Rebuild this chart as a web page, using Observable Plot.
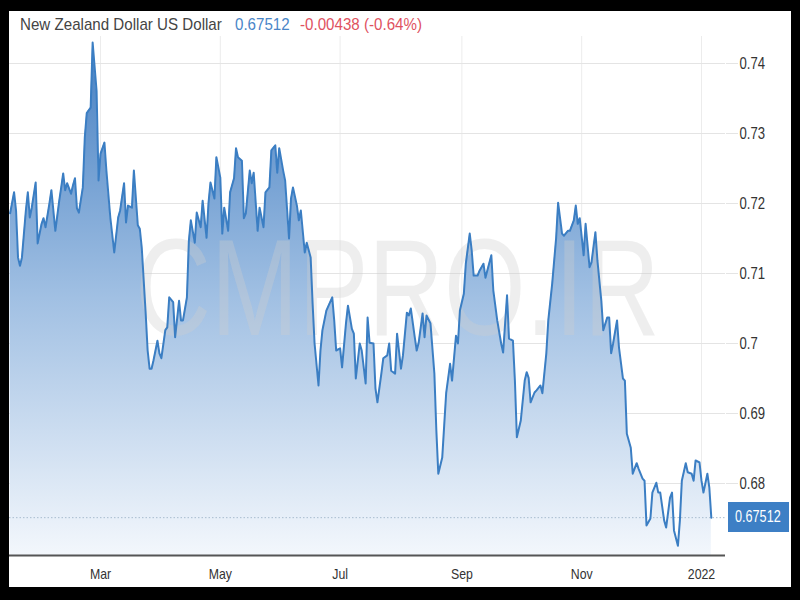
<!DOCTYPE html>
<html><head><meta charset="utf-8">
<script src="https://cdn.jsdelivr.net/npm/d3@7"></script>
<script src="https://cdn.jsdelivr.net/npm/@observablehq/plot@0.6"></script>
<style>
html,body{margin:0;padding:0;background:#000;width:800px;height:600px;overflow:hidden;}
#panel{position:absolute;left:9px;top:11px;width:782px;height:576px;background:#fff;}
.t{position:absolute;top:15px;font-family:"Liberation Sans",Arial,sans-serif;font-size:17px;white-space:nowrap;line-height:20px;transform:scaleX(0.89);transform-origin:0 50%;}
#chart{position:absolute;left:9px;top:36px;}
#last{position:absolute;left:728px;width:61px;height:30px;background:#3d7fc5;}
#lastText{position:absolute;left:7px;top:0;line-height:30px;color:#fff;font-family:"Liberation Sans",Arial,sans-serif;font-size:16px;white-space:nowrap;transform:scaleX(0.79);transform-origin:0 50%;}
</style></head>
<body>
<div id="panel"></div>
<div class="t" id="title" style="left:20px;color:#444;"></div>
<div class="t" id="price" style="left:235px;color:#4a86c8;"></div>
<div class="t" id="change" style="left:300px;color:#e0525f;"></div>
<div id="chart"></div>
<div id="last"><span id="lastText"></span></div>
<script>
const titleText = "New Zealand Dollar US Dollar";
const priceText = "0.67512";
const changeText = "-0.00438 (-0.64%)";
const watermark = "CMPRO.IR";

const dates = [
"2021-01-14","2021-01-16","2021-01-17","2021-01-18","2021-01-19","2021-01-20","2021-01-22","2021-01-23","2021-01-24","2021-01-25",
"2021-01-27","2021-01-28","2021-01-30","2021-01-31","2021-02-01","2021-02-03","2021-02-04","2021-02-06","2021-02-08","2021-02-09",
"2021-02-10","2021-02-11","2021-02-12","2021-02-14","2021-02-15","2021-02-16","2021-02-17","2021-02-18","2021-02-20","2021-02-21",
"2021-02-22","2021-02-24","2021-02-25","2021-02-27","2021-02-28","2021-03-01","2021-03-03","2021-03-04","2021-03-06","2021-03-08",
"2021-03-10","2021-03-11","2021-03-13","2021-03-14","2021-03-15","2021-03-17","2021-03-18","2021-03-20","2021-03-21","2021-03-22",
"2021-03-24","2021-03-25","2021-03-26","2021-03-27","2021-03-28","2021-03-30","2021-03-31","2021-04-01","2021-04-03","2021-04-04",
"2021-04-05","2021-04-07","2021-04-08","2021-04-10","2021-04-11","2021-04-12","2021-04-14","2021-04-15","2021-04-16","2021-04-18",
"2021-04-19","2021-04-21","2021-04-22","2021-04-24","2021-04-25","2021-04-26","2021-04-28","2021-04-29","2021-05-01","2021-05-02",
"2021-05-03","2021-05-05","2021-05-06","2021-05-08","2021-05-09","2021-05-10","2021-05-12","2021-05-13","2021-05-14","2021-05-16",
"2021-05-17","2021-05-18","2021-05-20","2021-05-21","2021-05-23","2021-05-24","2021-05-26","2021-05-27","2021-05-29","2021-05-30",
"2021-05-31","2021-06-02","2021-06-03","2021-06-05","2021-06-06","2021-06-07","2021-06-09","2021-06-10","2021-06-11","2021-06-13",
"2021-06-14","2021-06-16","2021-06-17","2021-06-18","2021-06-20","2021-06-21","2021-06-22","2021-06-24","2021-06-27","2021-06-28",
"2021-06-29","2021-07-01","2021-07-02","2021-07-04","2021-07-05","2021-07-07","2021-07-08","2021-07-09","2021-07-11","2021-07-12",
"2021-07-14","2021-07-15","2021-07-16","2021-07-18","2021-07-19","2021-07-20","2021-07-22","2021-07-23","2021-07-25","2021-07-26",
"2021-07-27","2021-07-29","2021-07-30","2021-08-01","2021-08-02","2021-08-04","2021-08-05","2021-08-06","2021-08-08","2021-08-09",
"2021-08-10","2021-08-12","2021-08-13","2021-08-14","2021-08-16","2021-08-18","2021-08-19","2021-08-20","2021-08-22","2021-08-23",
"2021-08-24","2021-08-26","2021-08-27","2021-08-29","2021-08-30","2021-08-31","2021-09-02","2021-09-03","2021-09-05","2021-09-06",
"2021-09-07","2021-09-09","2021-09-10","2021-09-12","2021-09-13","2021-09-16","2021-09-17","2021-09-19","2021-09-21","2021-09-22",
"2021-09-24","2021-09-25","2021-09-27","2021-09-28","2021-09-29","2021-10-01","2021-10-03","2021-10-04","2021-10-05","2021-10-06",
"2021-10-08","2021-10-09","2021-10-11","2021-10-12","2021-10-14","2021-10-15","2021-10-17","2021-10-19","2021-10-20","2021-10-22",
"2021-10-23","2021-10-25","2021-10-26","2021-10-28","2021-10-29","2021-10-30","2021-10-31","2021-11-02","2021-11-03","2021-11-05",
"2021-11-06","2021-11-08","2021-11-09","2021-11-11","2021-11-12","2021-11-14","2021-11-15","2021-11-16","2021-11-17","2021-11-19",
"2021-11-20","2021-11-22","2021-11-23","2021-11-24","2021-11-26","2021-11-27","2021-11-29","2021-11-30","2021-12-02","2021-12-03",
"2021-12-04","2021-12-06","2021-12-07","2021-12-09","2021-12-10","2021-12-11","2021-12-13","2021-12-14","2021-12-16","2021-12-17",
"2021-12-18","2021-12-20","2021-12-21","2021-12-22","2021-12-24","2021-12-25","2021-12-27","2021-12-28","2021-12-29","2021-12-31",
"2022-01-01","2022-01-02","2022-01-04","2022-01-05","2022-01-06"
];

const values = [
0.7186,0.7216,0.7190,0.7123,0.7111,0.7123,0.7190,0.7216,0.7180,0.7194,
0.7230,0.7143,0.7171,0.7179,0.7166,0.7200,0.7219,0.7161,0.7204,0.7223,
0.7243,0.7219,0.7229,0.7214,0.7226,0.7236,0.7193,0.7187,0.7223,0.7294,
0.7329,0.7337,0.7430,0.7361,0.7233,0.7271,0.7287,0.7247,0.7180,0.7130,
0.7180,0.7190,0.7229,0.7173,0.7197,0.7194,0.7247,0.7169,0.7164,0.7137,
0.7043,0.6990,0.6964,0.6964,0.6976,0.7004,0.6986,0.6979,0.7019,0.7023,
0.7066,0.7059,0.7009,0.7061,0.7033,0.7033,0.7066,0.7147,0.7176,0.7144,
0.7187,0.7166,0.7204,0.7151,0.7201,0.7230,0.7207,0.7266,0.7237,0.7157,
0.7194,0.7161,0.7216,0.7236,0.7279,0.7266,0.7261,0.7179,0.7186,0.7247,
0.7229,0.7244,0.7161,0.7194,0.7166,0.7216,0.7223,0.7276,0.7283,0.7244,
0.7279,0.7247,0.7233,0.7150,0.7207,0.7223,0.7197,0.7176,0.7190,0.7130,
0.7144,0.7123,0.7057,0.7000,0.6940,0.6990,0.7019,0.7047,0.7066,0.7033,
0.6990,0.6993,0.6966,0.7029,0.7054,0.7021,0.7014,0.6950,0.7000,0.6990,
0.6943,0.7037,0.7001,0.7000,0.6936,0.6916,0.6957,0.6979,0.6983,0.7000,
0.6961,0.6957,0.7014,0.6964,0.6983,0.7044,0.7040,0.7050,0.7009,0.6990,
0.7001,0.7043,0.7009,0.7040,0.7029,0.6957,0.6876,0.6814,0.6837,0.6883,
0.6929,0.6971,0.6947,0.7011,0.7000,0.7047,0.7071,0.7114,0.7157,0.7133,
0.7097,0.7097,0.7104,0.7114,0.7094,0.7126,0.7076,0.7033,0.7000,0.6987,
0.7069,0.7007,0.7004,0.6947,0.6866,0.6890,0.6947,0.6959,0.6951,0.6916,
0.6930,0.6933,0.6940,0.6929,0.6986,0.7033,0.7086,0.7151,0.7201,0.7157,
0.7154,0.7161,0.7161,0.7176,0.7197,0.7171,0.7179,0.7126,0.7171,0.7109,
0.7116,0.7159,0.7119,0.7061,0.7019,0.7037,0.7037,0.6986,0.7000,0.7033,
0.6994,0.6950,0.6947,0.6871,0.6851,0.6814,0.6829,0.6821,0.6807,0.6804,
0.6740,0.6750,0.6787,0.6801,0.6787,0.6787,0.6747,0.6737,0.6780,0.6787,
0.6733,0.6711,0.6747,0.6804,0.6829,0.6816,0.6814,0.6804,0.6833,0.6830,
0.6804,0.6787,0.6814,0.6794,0.67512
];

const xTickDates = ["2021-03-01","2021-05-01","2021-07-01","2021-09-01","2021-11-01","2022-01-01"];
const xTickLabels = ["Mar","May","Jul","Sep","Nov","2022"];
const yTicks = [0.68,0.69,0.70,0.71,0.72,0.73,0.74];
const yDomain = [0.669714, 0.743857];
const xDomain = ["2021-01-13T16:00:00Z","2022-01-13T05:30:00Z"];

const font = '"Liberation Sans",Arial,sans-serif';

document.getElementById("title").textContent = titleText;
document.getElementById("price").textContent = priceText;
document.getElementById("change").textContent = changeText;

const data = dates.map((d, i) => ({date: new Date(d), value: values[i]}));
const xTicks = xTickDates.map(d => new Date(d));
const labelOf = new Map(xTicks.map((t, i) => [+t, xTickLabels[i]]));
const last = values[values.length - 1];

const defs = () => {
  const g = document.createElementNS("http://www.w3.org/2000/svg", "g");
  g.innerHTML = '<defs><linearGradient id="nzdGrad" x1="0" y1="0" x2="0" y2="1">' +
    '<stop offset="0" stop-color="#4680c2"/><stop offset="0.5" stop-color="#a1c0e3"/><stop offset="1" stop-color="#f3f7fc"/></linearGradient></defs>';
  return g;
};

const chart = Plot.plot({
  width: 782, height: 554,
  marginLeft: 0, marginRight: 66, marginTop: 0, marginBottom: 35,
  style: {fontFamily: font, background: "transparent", overflow: "visible"},
  x: {type: "utc", domain: xDomain.map(d => new Date(d))},
  y: {domain: yDomain},
  marks: [
    defs,
    Plot.gridX(xTicks, {stroke: "#ececec", strokeOpacity: 1}),
    Plot.gridY(yTicks, {stroke: "#e4e4e4", strokeOpacity: 1}),
    Plot.areaY(data, {x: "date", y1: yDomain[0], y2: "value", fill: "url(#nzdGrad)"}),
    Plot.text([watermark], {frameAnchor: "middle", dx: 30, dy: -5, fontSize: 138, fontFamily: font, fill: "#cfcfcf", fillOpacity: 0.35}),
    Plot.ruleY([last], {stroke: "#a9bccf", strokeDasharray: "1.5,2"}),
    Plot.lineY(data, {x: "date", y: "value", stroke: "#3b7ec3", strokeWidth: 2}),
    Plot.axisX(xTicks, {tickSize: 0, tickPadding: 13, tickFormat: d => labelOf.get(+d), fontSize: 15, fill: "#333", label: null}),
    Plot.axisY(yTicks, {anchor: "right", tickSize: 12, stroke: "#e4e4e4", tickPadding: 2, fontSize: 16, fill: "#333", tickFormat: d => String(d), label: null}),
    Plot.ruleY([yDomain[0]], {stroke: "#555", strokeWidth: 2})
  ]
});
document.getElementById("chart").appendChild(chart);

// condense glyphs horizontally to match the narrow face of the reference
chart.querySelectorAll("text").forEach(t => {
  if (t.textContent === watermark) {
    const parent = t.parentNode;
    const m = parent.getScreenCTM();
    const r = t.getBoundingClientRect();
    const cx = ((r.left + r.width / 2) - m.e) / m.a;
    const g = document.createElementNS("http://www.w3.org/2000/svg", "g");
    g.setAttribute("transform", `translate(${cx},0) scale(0.76,1) translate(${-cx},0)`);
    parent.insertBefore(g, t);
    g.appendChild(t);
    return;
  }
  const len = t.getComputedTextLength();
  if (!len) return;
  t.setAttribute("textLength", (len * 0.82).toFixed(1));
  t.setAttribute("lengthAdjust", "spacingAndGlyphs");
});

const yPix = chart.scale("y").apply(last);
const box = document.getElementById("last");
document.getElementById("lastText").textContent = String(last);
box.style.top = (36 + yPix - 15) + "px";
</script>
</body></html>
